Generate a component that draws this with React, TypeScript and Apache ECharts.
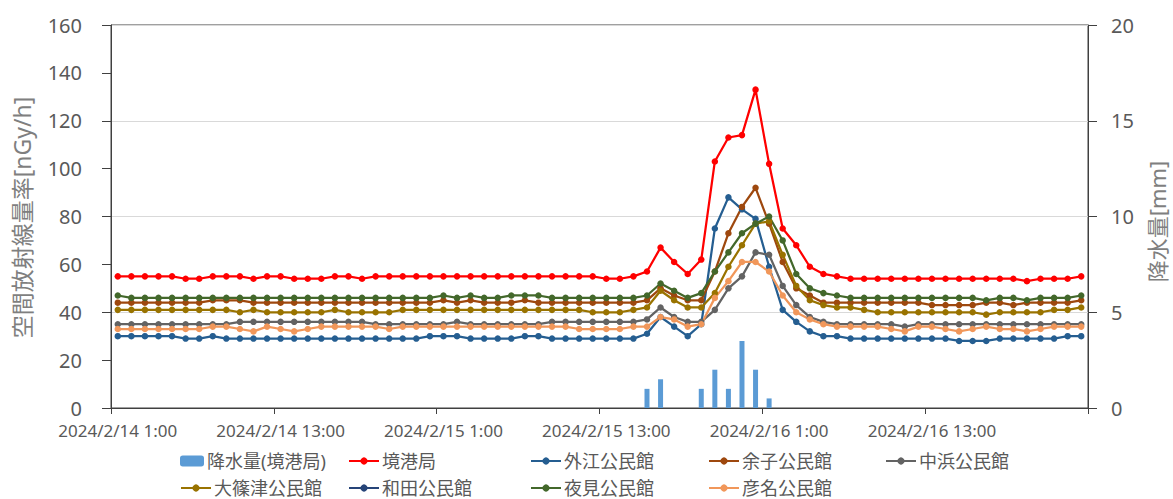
import React, { useEffect, useRef } from "react";
import * as echarts from "echarts";

// x categories: hourly, 2024/2/14 1:00 .. 2024/2/17 0:00
const categories: string[] = Array.from({ length: 72 }, (_, i) => {
  const hours = i + 1;
  const day = 14 + Math.floor(hours / 24);
  return `2024/2/${day} ${hours % 24}:00`;
});

// rainfall [mm] (境港局)
const rain: number[] = [
  0, 0, 0, 0, 0, 0, 0, 0, 0, 0,
  0, 0, 0, 0, 0, 0, 0, 0, 0, 0,
  0, 0, 0, 0, 0, 0, 0, 0, 0, 0,
  0, 0, 0, 0, 0, 0, 0, 0, 0, 1.0,
  1.5, 0, 0, 1.0, 2.0, 1.0, 3.5, 2.0, 0.5, 0,
  0, 0, 0, 0, 0, 0, 0, 0, 0, 0,
  0, 0, 0, 0, 0, 0, 0, 0, 0, 0,
  0, 0,
];

const sakaiminato: number[] = [
  55, 55, 55, 55, 55, 54, 54, 55, 55, 55,
  54, 55, 55, 54, 54, 54, 55, 55, 54, 55,
  55, 55, 55, 55, 55, 55, 55, 55, 55, 55,
  55, 55, 55, 55, 55, 55, 54, 54, 55, 57,
  67, 61, 56, 62, 103, 113, 114, 133, 102, 75,
  68, 59, 56, 55, 54, 54, 54, 54, 54, 54,
  54, 54, 54, 54, 54, 54, 54, 53, 54, 54,
  54, 55,
];

const sotoe: number[] = [
  30, 30, 30, 30, 30, 29, 29, 30, 29, 29,
  29, 29, 29, 29, 29, 29, 29, 29, 29, 29,
  29, 29, 29, 30, 30, 30, 29, 29, 29, 29,
  30, 30, 29, 29, 29, 29, 29, 29, 29, 31,
  38, 34, 30, 35, 75, 88, 83, 79, 59, 41,
  36, 32, 30, 30, 29, 29, 29, 29, 29, 29,
  29, 29, 28, 28, 28, 29, 29, 29, 29, 29,
  30, 30,
];

const amariko: number[] = [
  44, 44, 44, 44, 44, 44, 44, 45, 45, 45,
  44, 44, 44, 44, 44, 44, 44, 44, 44, 44,
  44, 44, 44, 44, 45, 44, 45, 44, 44, 44,
  45, 44, 44, 44, 44, 44, 44, 44, 44, 45,
  50, 47, 45, 45, 57, 73, 84, 92, 77, 61,
  50, 47, 44, 44, 44, 44, 44, 44, 44, 44,
  43, 43, 43, 43, 44, 44, 43, 44, 44, 44,
  44, 45,
];

const nakahama: number[] = [
  35, 35, 35, 35, 35, 35, 35, 35, 35, 36,
  36, 36, 36, 36, 36, 36, 36, 36, 36, 35,
  35, 35, 35, 35, 35, 36, 35, 35, 35, 35,
  35, 35, 36, 36, 36, 36, 36, 36, 36, 37,
  42, 38, 36, 36, 41, 50, 55, 65, 64, 51,
  43, 38, 36, 35, 35, 35, 35, 35, 34, 35,
  35, 35, 35, 35, 35, 35, 35, 35, 35, 35,
  35, 35,
];

const oshinozu: number[] = [
  41, 41, 41, 41, 41, 41, 41, 41, 41, 40,
  41, 40, 40, 40, 40, 40, 41, 40, 40, 40,
  40, 41, 41, 41, 41, 41, 41, 41, 41, 41,
  41, 41, 41, 41, 41, 40, 40, 40, 41, 42,
  49, 45, 42, 42, 48, 59, 68, 77, 78, 64,
  51, 45, 43, 42, 42, 41, 40, 40, 40, 40,
  40, 40, 40, 40, 39, 40, 40, 40, 40, 41,
  41, 42,
];

// 和田公民館: no line visible in the reference
const wada: (number | null)[] = [];

const yomi: number[] = [
  47, 46, 46, 46, 46, 46, 46, 46, 46, 46,
  46, 46, 46, 46, 46, 46, 46, 46, 46, 46,
  46, 46, 46, 46, 47, 46, 47, 46, 46, 47,
  47, 47, 46, 46, 46, 46, 46, 46, 46, 47,
  52, 49, 46, 48, 57, 65, 73, 77, 80, 70,
  56, 50, 48, 47, 46, 46, 46, 46, 46, 46,
  46, 46, 46, 46, 45, 46, 46, 45, 46, 46,
  46, 47,
];

const hikona: number[] = [
  33, 33, 33, 33, 33, 33, 33, 34, 34, 33,
  32, 34, 33, 32, 33, 34, 34, 34, 34, 34,
  33, 34, 34, 34, 34, 34, 34, 34, 34, 34,
  34, 34, 34, 34, 33, 33, 33, 33, 34, 34,
  38, 37, 34, 35, 46, 53, 61, 61, 57, 47,
  40, 37, 35, 34, 34, 34, 34, 33, 32, 34,
  34, 33, 32, 33, 34, 33, 33, 32, 33, 34,
  34, 34,
];

const lineSeriesDefs = [
  { name: "境港局", data: sakaiminato, color: "#FF0000" },
  { name: "外江公民館", data: sotoe, color: "#255E91" },
  { name: "余子公民館", data: amariko, color: "#9E480E" },
  { name: "中浜公民館", data: nakahama, color: "#636363" },
  { name: "大篠津公民館", data: oshinozu, color: "#997300" },
  { name: "和田公民館", data: wada, color: "#264478" },
  { name: "夜見公民館", data: yomi, color: "#43682B" },
  { name: "彦名公民館", data: hikona, color: "#F1975A" },
];

const legendLayout = [
  { name: "降水量(境港局)", left: 180, top: 452 },
  { name: "境港局", left: 348, top: 452 },
  { name: "外江公民館", left: 530, top: 452 },
  { name: "余子公民館", left: 708, top: 452 },
  { name: "中浜公民館", left: 885, top: 452 },
  { name: "大篠津公民館", left: 180, top: 479 },
  { name: "和田公民館", left: 348, top: 479 },
  { name: "夜見公民館", left: 530, top: 479 },
  { name: "彦名公民館", left: 708, top: 479 },
];

const FONT = "'Noto Sans', 'Noto Sans CJK JP', sans-serif";

export default function App() {
  const ref = useRef<HTMLDivElement>(null);
  useEffect(() => {
    if (!ref.current) return;
    const chart = echarts.init(ref.current, null, { renderer: "svg" });
    const option: any = {
      animation: false,
      textStyle: { fontFamily: FONT },
      grid: {
        left: 111,
        right: 85,
        top: 25,
        bottom: 91,
        show: true,
        borderColor: "#404040",
        borderWidth: 1,
        backgroundColor: "transparent",
      },
      legend: legendLayout.map((l, i) => ({
        data: [l.name],
        left: l.left,
        top: l.top,
        padding: 0,
        itemWidth: i === 0 ? 24 : 30,
        itemHeight: i === 0 ? 11 : 9,
        itemGap: 0,
        selectedMode: false,
        textStyle: { fontSize: 18, color: "#595959", fontFamily: FONT, padding: [0, 0, 0, -2] },
      })),
      xAxis: {
        type: "category",
        data: categories,
        boundaryGap: true,
        axisLine: { lineStyle: { color: "#404040", width: 1 } },
        axisTick: { show: true, interval: 11, length: 6, lineStyle: { color: "#404040" } },
        axisLabel: { interval: 11, fontSize: 17, color: "#595959", margin: 14, fontFamily: FONT },
        splitLine: { show: false },
      },
      yAxis: [
        {
          type: "value",
          min: 0,
          max: 160,
          interval: 20,
          position: "left",
          axisLine: { show: true, lineStyle: { color: "#404040" } },
          axisTick: { show: true, length: 9, lineStyle: { color: "#404040" } },
          axisLabel: { fontSize: 20, color: "#595959", margin: 29, fontFamily: FONT },
          splitLine: { show: false },
        },
        {
          type: "value",
          min: 0,
          max: 20,
          interval: 5,
          position: "right",
          axisLine: { show: true, lineStyle: { color: "#404040" } },
          axisTick: { show: true, length: 9, lineStyle: { color: "#404040" } },
          axisLabel: { fontSize: 20, color: "#595959", margin: 23, fontFamily: FONT },
          splitLine: { show: true, lineStyle: { color: "#D9D9D9", width: 1 } },
        },
      ],
      graphic: [
        {
          type: "text",
          x: 21.5,
          y: 217.5,
          rotation: Math.PI / 2,
          style: {
            text: "空間放射線量率[nGy/h]",
            fontSize: 23,
            fill: "#7F7F7F",
            fontFamily: FONT,
            align: "center",
            verticalAlign: "middle",
          },
        },
        {
          type: "text",
          x: 1157,
          y: 221.5,
          rotation: Math.PI / 2,
          style: {
            text: "降水量[mm]",
            fontSize: 22,
            fill: "#7F7F7F",
            fontFamily: FONT,
            align: "center",
            verticalAlign: "middle",
          },
        },
      ],
      series: [
        {
          name: "降水量(境港局)",
          type: "bar",
          yAxisIndex: 1,
          data: rain,
          barWidth: 5,
          itemStyle: { color: "#5B9BD5" },
        },
        ...lineSeriesDefs.map((s) => ({
          name: s.name,
          type: "line",
          yAxisIndex: 0,
          data: s.data,
          symbol: "circle",
          symbolSize: 6.5,
          showSymbol: true,
          lineStyle: { color: s.color, width: 2.25 },
          itemStyle: { color: s.color },
          emphasis: { disabled: true },
        })),
      ],
    };
    chart.setOption(option);
    return () => chart.dispose();
  }, []);
  return (
    <div
      ref={ref}
      style={{ position: "fixed", left: 0, top: 0, width: 1173, height: 499, background: "#fff" }}
    />
  );
}
